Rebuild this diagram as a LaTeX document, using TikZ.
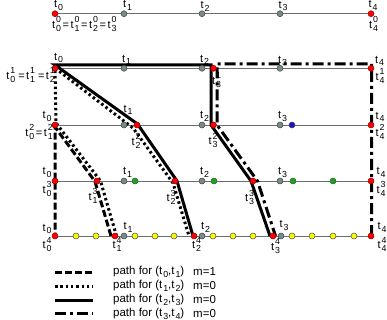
\documentclass[tikz,border=0pt]{standalone}
\usepackage{fontspec}
\setmainfont{Liberation Sans}
\definecolor{gcol}{RGB}{122,138,138}
\definecolor{gedge}{RGB}{60,70,70}
\definecolor{linecol}{RGB}{110,110,110}
\definecolor{grn}{RGB}{20,170,20}
\definecolor{blu}{RGB}{20,20,200}
\definecolor{yel}{RGB}{250,250,0}
\newcommand{\mysub}[1]{\raisebox{-0.26em}{\fontsize{8.8}{8.8}\selectfont #1}}
\newcommand{\mysup}[1]{\raisebox{0.5em}{\fontsize{8.8}{8.8}\selectfont #1}}
\newcommand{\tsb}[1]{t\kern0.9pt\mysub{#1}}
\newcommand{\tss}[2]{t\kern0.9pt\rlap{\mysub{#1}}\mysup{#2}}
\newcommand{\eqs}{\kern1.6pt=\kern1.6pt}
\newcommand{\eqw}{\kern3pt=\kern1.5pt}
\pgfdeclarelayer{bg}
\pgfdeclarelayer{mid}
\pgfsetlayers{bg,mid,main}
\begin{document}
\begin{tikzpicture}[x=1pt,y=-1pt,
  dot/.style={circle,line width=0.5pt,inner sep=0pt,minimum size=6pt},
  gdot/.style={dot,fill=gcol,draw=gedge},
  rdot/.style={dot,fill=red,draw=red!60!black},
  ndot/.style={dot,fill=grn,draw=black!70},
  bdot/.style={dot,fill=blu,draw=black!70},
  ydot/.style={dot,fill=yel,draw=black!70},
  lbl/.style={inner sep=0pt,font=\fontsize{11}{11}\selectfont},
  legtext/.style={inner sep=0pt,anchor=west,font=\fontsize{11.5}{11.5}\selectfont},
  rowline/.style={draw=linecol,line width=0.9pt},
  pth/.style={line width=3pt,black,line join=miter},
  pdash/.style={pth,dash pattern=on 7pt off 3pt},
  pdot/.style={pth,dash pattern=on 2.5pt off 2.8pt},
  pdd/.style={pth,dash pattern=on 11pt off 4pt on 3pt off 4pt},
]
\useasboundingbox (0,0) rectangle (387,320);

% ---------- row 0 ----------
\node[rdot] (a0) at (55,13.7) {};
\node[gdot] (a1) at (124,13.7) {};
\node[gdot] (a2) at (202,13.7) {};
\node[gdot] (a3) at (280,13.7) {};
\node[rdot] (a4) at (371,13.7) {};
% ---------- row 1 ----------
\node[rdot] (b0) at (55,68.3) {};
\node[gdot] (b1) at (124,68.3) {};
\node[gdot] (b2) at (202,68.3) {};
\node[rdot] (b3r) at (213.5,68.3) {};
\node[gdot] (b3) at (280,68.3) {};
\node[rdot] (b4) at (371,68.3) {};
% ---------- row 2 ----------
\node[rdot] (c0) at (55,125) {};
\node[gdot] (c1) at (124,125) {};
\node[rdot] (c2r) at (137,125) {};
\node[gdot] (c2) at (202,125) {};
\node[rdot] (c3r) at (213.5,125) {};
\node[gdot] (c3) at (280,125) {};
\node[bdot] (cb) at (292,125) {};
\node[rdot] (c4) at (371,125) {};
% ---------- row 3 ----------
\node[rdot] (d0) at (55,181) {};
\node[rdot] (d1r) at (97,181) {};
\node[gdot] (d1) at (124,181) {};
\node[ndot] (dg1) at (135,181) {};
\node[rdot] (d2r) at (175,181) {};
\node[gdot] (d2) at (202,181) {};
\node[ndot] (dg2) at (214,181) {};
\node[rdot] (d3r) at (253,181) {};
\node[gdot] (d3) at (280,181) {};
\node[ndot] (dg3) at (293,181) {};
\node[ndot] (dg4) at (333,181) {};
\node[rdot] (d4) at (371,181) {};
% ---------- row 4 ----------
\node[rdot] (e0) at (55,236) {};
\node[ydot] (ey1) at (76,236) {};
\node[ydot] (ey2) at (96,236) {};
\node[rdot] (e1r) at (115,236) {};
\node[gdot] (e1) at (124,236) {};
\node[ydot] (ey3) at (135,236) {};
\node[ydot] (ey4) at (155,236) {};
\node[ydot] (ey5) at (174,236) {};
\node[rdot] (e2r) at (194,236) {};
\node[gdot] (e2) at (202,236) {};
\node[ydot] (ey6) at (213,236) {};
\node[ydot] (ey7) at (233,236) {};
\node[ydot] (ey8) at (253,236) {};
\node[rdot] (e3r) at (273,236) {};
\node[gdot] (e3) at (281,236) {};
\node[ydot] (ey9) at (292,236) {};
\node[ydot] (ey10) at (312,236) {};
\node[ydot] (ey11) at (333,236) {};
\node[ydot] (ey12) at (354,236) {};
\node[rdot] (e4) at (371,236) {};

% row lines (behind dots)
\begin{pgfonlayer}{bg}
\draw[rowline] (a0.center) -- (a4.center);
\draw[rowline] (b0.center) -- (b4.center);
\draw[rowline] (c0.center) -- (c4.center);
\draw[rowline] (d0.center) -- (d4.center);
\draw[rowline] (e0.center) -- (e4.center);
\node[lbl] (lb3s) at (216.5,80) {\tss{3}{1}};
\end{pgfonlayer}

% ---------- labels ----------
% row 0
\node[lbl] (la0) at (58.5,5.5) {\tsb{0}};
\node[lbl] (la1) at (127.5,5.5) {\tsb{1}};
\node[lbl] (la2) at (205,6.5) {\tsb{2}};
\node[lbl] (la3) at (283,6) {\tsb{3}};
\node[lbl] (la4) at (373,5.5) {\tsb{4}};
\node[lbl] (la4s) at (373.5,24) {\tss{4}{0}};
\node[lbl,anchor=west] (la0s) at (52,24) {\tss{0}{0}\eqs\tss{1}{0}\eqs\tss{2}{0}\eqs\tss{3}{0}};
% row 1
\node[lbl] (lb0) at (58.5,58) {\tsb{0}};
\node[lbl,anchor=east] (lb0s) at (55,75) {\tss{0}{1}\eqw\tss{1}{1}\eqw\tss{2}{1}};
\node[lbl] (lb1) at (126.5,60) {\tsb{1}};
\node[lbl] (lb2) at (204.5,60) {\tsb{2}};
\node[lbl] (lb3) at (282.5,61) {\tsb{3}};
\node[lbl] (lb4) at (379.5,61) {\tsb{4}};
\node[lbl] (lb4s) at (380,76) {\tss{4}{1}};
% row 2
\node[lbl] (lc0) at (47,116.5) {\tsb{0}};
\node[lbl,anchor=east] (lc0s) at (53,132) {\tss{0}{2}\eqs\tss{1}{2}};
\node[lbl] (lc1) at (128,110) {\tsb{1}};
\node[lbl] (lc2s) at (136,141) {\tss{2}{2}};
\node[lbl] (lc2) at (204.5,116.5) {\tsb{2}};
\node[lbl] (lc3s) at (213,140.5) {\tss{3}{2}};
\node[lbl] (lc3) at (282.5,116.5) {\tsb{3}};
\node[lbl] (lc4) at (380,117) {\tsb{4}};
\node[lbl] (lc4s) at (380,132) {\tss{4}{2}};
% row 3
\node[lbl] (ld0) at (47,172.5) {\tsb{0}};
\node[lbl] (ld0s) at (47,189) {\tss{0}{3}};
\node[lbl] (ld1s) at (93,196) {\tss{1}{3}};
\node[lbl] (ld1) at (127.5,172.5) {\tsb{1}};
\node[lbl] (ld2s) at (171,197.5) {\tss{2}{3}};
\node[lbl] (ld2) at (204.5,172.5) {\tsb{2}};
\node[lbl] (ld3s) at (249.5,197.5) {\tss{3}{3}};
\node[lbl] (ld3) at (282.5,172.5) {\tsb{3}};
\node[lbl] (ld4) at (381,172.5) {\tsb{4}};
\node[lbl] (ld4s) at (381,189) {\tss{4}{3}};
% row 4
\node[lbl] (le0) at (47,229) {\tsb{0}};
\node[lbl] (le0s) at (47,244.5) {\tss{0}{4}};
\node[lbl] (le1s) at (117,244.5) {\tss{1}{4}};
\node[lbl] (le1) at (128,227.5) {\tsb{1}};
\node[lbl] (le2s) at (196.5,244.5) {\tss{2}{4}};
\node[lbl] (le2) at (205.5,227.5) {\tsb{2}};
\node[lbl] (le3s) at (275.5,246) {\tss{3}{4}};
\node[lbl] (le3) at (284,225.5) {\tsb{3}};
\node[lbl] (le4) at (382,227.5) {\tsb{4}};
\node[lbl] (le4s) at (382,244.5) {\tss{4}{4}};

% ---------- path vertices ----------
% solid (t2,t3)
\coordinate (s1) at (193,236);
\coordinate (s2) at (177,181);
\coordinate (s3) at (137.5,124);
\coordinate (s4) at (55,65);
\coordinate (s5) at (211,65);
\coordinate (s6) at (211,125);
\coordinate (s7) at (251,181);
\coordinate (s8) at (270,236);
% dotted (t1,t2)
\coordinate (p1) at (116.5,236);
\coordinate (p2) at (100.5,181);
\coordinate (p3) at (56,123);
\coordinate (p4) at (55,68);
\coordinate (p5) at (133,128);
\coordinate (p6) at (173,183);
\coordinate (p7) at (189,236);
% dashed (t0,t1)
\coordinate (q1) at (111,236);
\coordinate (q2) at (95,181.5);
\coordinate (q3) at (55,127);
\coordinate (q4) at (55,236);
% dash-dot (t3,t4)
\coordinate (w1) at (371.5,236);
\coordinate (w2) at (371.5,64);
\coordinate (w3) at (217,64);
\coordinate (w4) at (217,125);
\coordinate (w5) at (257.5,181);
\coordinate (w6) at (275.5,236);

% ---------- legend ----------
\coordinate (g1a) at (55,272); \coordinate (g1b) at (93,272);
\coordinate (g2a) at (55,286); \coordinate (g2b) at (93,286);
\coordinate (g3a) at (55,300); \coordinate (g3b) at (93,300);
\coordinate (g4a) at (55,313.5); \coordinate (g4b) at (93,313.5);
\node[legtext] (t1) at (113,272) {path for (\tsb{0},\tsb{1})};
\node[legtext] (t2) at (113,286) {path for (\tsb{1},\tsb{2})};
\node[legtext] (t3) at (113,300) {path for (\tsb{2},\tsb{3})};
\node[legtext] (t4) at (113,313.5) {path for (\tsb{3},\tsb{4})};
\node[legtext] (m1) at (193,272) {m=1};
\node[legtext] (m2) at (193,286) {m=0};
\node[legtext] (m3) at (193,300) {m=0};
\node[legtext] (m4) at (193,313.5) {m=0};

% ---------- paths (below dots) ----------
\begin{pgfonlayer}{mid}
\draw[pth] (s1) -- (s2) -- (s3) -- (s4) -- (s5) -- (s6) -- (s7) -- (s8);
\draw[pdot] (p1) -- (p2) -- (p3) -- (p4) -- (p5) -- (p6) -- (p7);
\draw[pdash] (q1) -- (q2) -- (q3) -- (q4);
\draw[pdd] (w1) -- (w2) -- (w3) -- (w4) -- (w5) -- (w6);
\end{pgfonlayer}

\draw[pdash] (g1a) -- (g1b);
\draw[pdot] (g2a) -- (g2b);
\draw[pth] (g3a) -- (g3b);
\draw[pdd] (g4a) -- (g4b);
\end{tikzpicture}
\end{document}
